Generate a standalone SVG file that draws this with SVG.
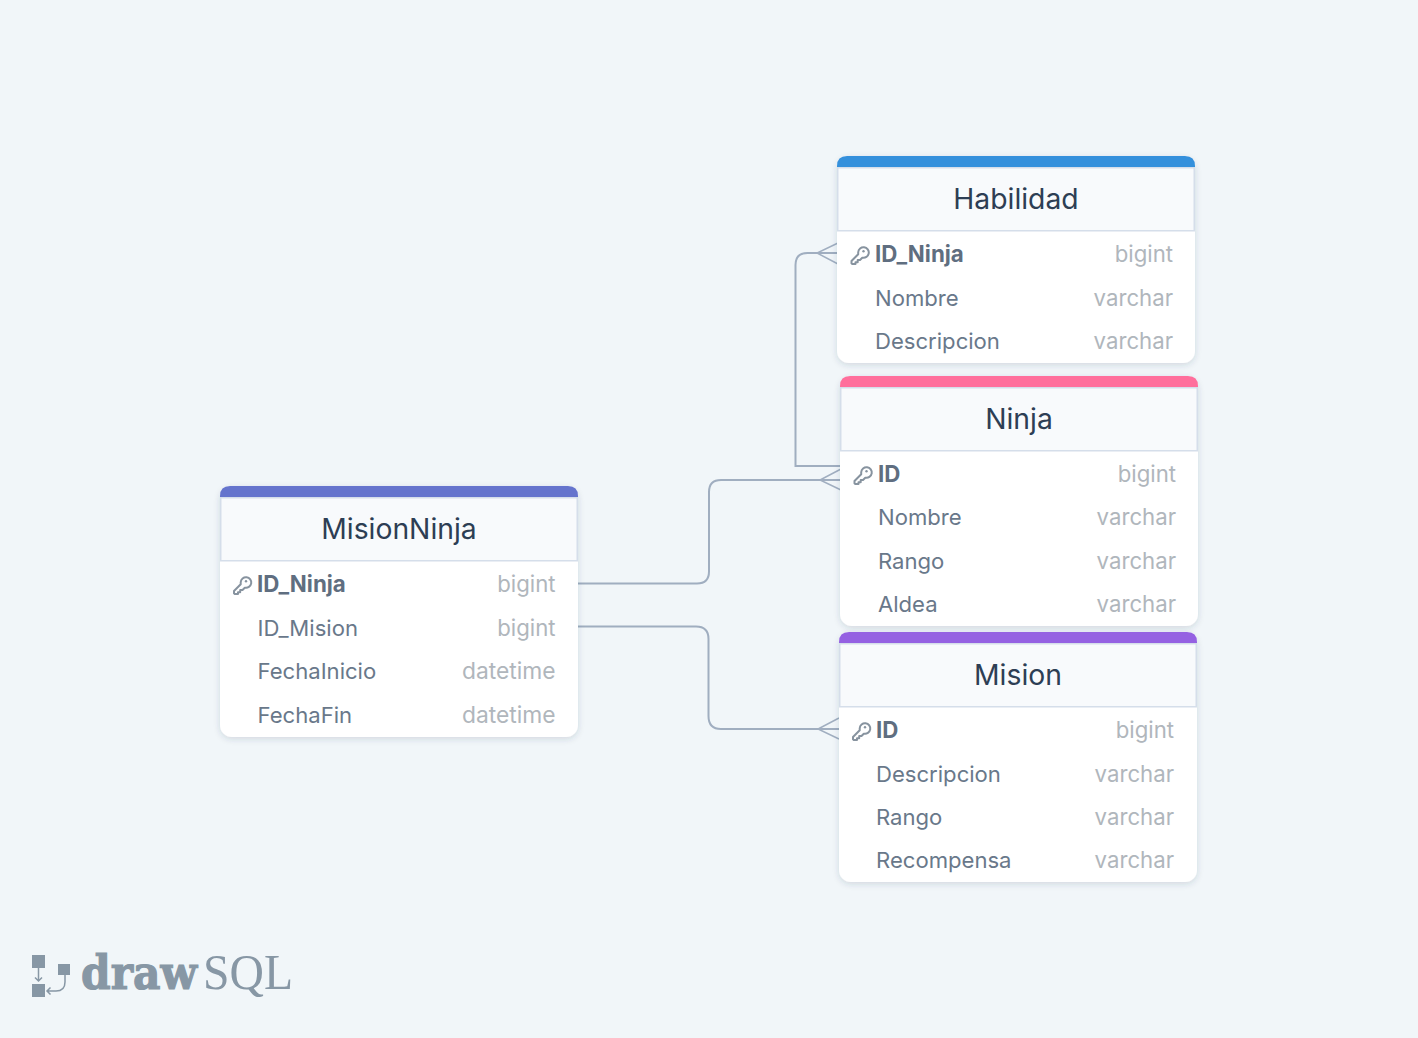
<svg xmlns="http://www.w3.org/2000/svg" width="1418" height="1038" viewBox="0 0 1418 1038">
<style>
text{font-family:Inter,"Noto Sans","Liberation Sans",sans-serif}
.title{font-size:28.3px;font-weight:400;fill:#2d3e54;text-anchor:middle}
.col{font-size:22.1px;fill:#69788a}
.pk{font-size:22.3px;fill:#5f6e80;font-weight:700}
.type{font-size:22.2px;fill:#b0b6bc;text-anchor:end}
.dt{font-size:22.8px}
.conn{fill:none;stroke:#a0aec0;stroke-width:2}
.crow{fill:none;stroke:#a0aec0;stroke-width:1.5}
.head{fill:#f8fafc;stroke:#d5deea;stroke-width:1.5}
.body{fill:#fff;filter:url(#sh)}
.key{fill:none;stroke:#87939f;stroke-width:2;stroke-linejoin:round}
.logo{fill:#8797a5}
</style>
<defs>
<filter id="sh" x="-10%" y="-10%" width="120%" height="120%"><feDropShadow dx="0" dy="2" stdDeviation="3" flood-color="#2d3e54" flood-opacity=".16"/></filter>
<g id="k"><path class="key" d="M-1.300 -2.300A5.300 5.300 0 1 1 2.800 3.200L0.500 5.500H-1.800V7.800H-4V9.500H-7.200L-8 8.700V6.500L-1.300 -0.300Z"/><circle cx="4" cy="-3.200" r="1.200" fill="#87939f"/></g>
</defs>
<rect width="1418" height="1038" fill="#f1f6f9"/>
<g id="connectors">
<path class="conn" d="M840 466H795.500V265Q795.500 253 807.500 253H838"/>
<path class="crow" d="M838 243L817 253L838 264"/>
<path class="conn" d="M578 583.500H697Q709 583.500 709 571.500V492Q709 480 721 480H841"/>
<path class="crow" d="M841 469L820 480L841 490"/>
<path class="conn" d="M578 626.500H696Q708.500 626.500 708.500 639V716Q708.500 729 721 729H839"/>
<path class="crow" d="M839 718L818 729L839 739"/>
</g>
<g id="habilidad">
<rect class="body" x="837" y="156" width="358" height="207" rx="12"/>
<path d="M837 168V166Q837 156 847 156H1185Q1195 156 1195 166V168Z" fill="#3490dc"/>
<rect class="head" x="837.750" y="167.750" width="356.500" height="63"/>
<text class="title" x="1016" y="209">Habilidad</text>
<use href="#k" x="859.500" y="254.500"/>
<text class="pk" x="875" y="262">ID_Ninja</text><text class="type" x="1173" y="262">bigint</text>
<text class="col" x="875" y="306">Nombre</text><text class="type" x="1173" y="306">varchar</text>
<text class="col" x="875" y="349">Descripcion</text><text class="type" x="1173" y="349">varchar</text>
</g>
<g id="ninja">
<rect class="body" x="840" y="376" width="358" height="250" rx="12"/>
<path d="M840 388V386Q840 376 850 376H1188Q1198 376 1198 386V388Z" fill="#ff6f9c"/>
<rect class="head" x="840.750" y="387.750" width="356.500" height="63"/>
<text class="title" x="1019" y="429">Ninja</text>
<use href="#k" x="862.500" y="474.500"/>
<text class="pk" x="878" y="482">ID</text><text class="type" x="1176" y="482">bigint</text>
<text class="col" x="878" y="525">Nombre</text><text class="type" x="1176" y="525">varchar</text>
<text class="col" x="878" y="569">Rango</text><text class="type" x="1176" y="569">varchar</text>
<text class="col" x="878" y="612">Aldea</text><text class="type" x="1176" y="612">varchar</text>
</g>
<g id="mision">
<rect class="body" x="839" y="632" width="358" height="250" rx="12"/>
<path d="M839 644V642Q839 632 849 632H1187Q1197 632 1197 642V644Z" fill="#9561e2"/>
<rect class="head" x="839.750" y="643.750" width="356.500" height="63"/>
<text class="title" x="1018" y="685">Mision</text>
<use href="#k" x="861" y="730.500"/>
<text class="pk" x="876" y="738">ID</text><text class="type" x="1174" y="738">bigint</text>
<text class="col" x="876" y="782">Descripcion</text><text class="type" x="1174" y="782">varchar</text>
<text class="col" x="876" y="825">Rango</text><text class="type" x="1174" y="825">varchar</text>
<text class="col" x="876" y="868">Recompensa</text><text class="type" x="1174" y="868">varchar</text>
</g>
<g id="misionninja">
<rect class="body" x="220" y="486" width="358" height="251" rx="12"/>
<path d="M220 498V496Q220 486 230 486H568Q578 486 578 496V498Z" fill="#6574cd"/>
<rect class="head" x="220.750" y="497.750" width="356.500" height="63"/>
<text class="title" x="399" y="539">MisionNinja</text>
<use href="#k" x="242" y="584.500"/>
<text class="pk" x="257" y="592">ID_Ninja</text><text class="type" x="555.500" y="592">bigint</text>
<text class="col" x="257.500" y="636">ID_Mision</text><text class="type" x="555.500" y="636">bigint</text>
<text class="col" x="257.500" y="679">FechaInicio</text><text class="type dt" x="555.500" y="679">datetime</text>
<text class="col" x="257.500" y="723">FechaFin</text><text class="type dt" x="555.500" y="723">datetime</text>
</g>
<g id="logo">
<rect class="logo" x="32" y="955" width="13" height="13"/>
<rect class="logo" x="32" y="984" width="13" height="13"/>
<rect class="logo" x="58" y="964" width="12" height="11"/>
<path d="M38.500 968V981M35 977.500L38.500 981L42 977.500M65 975V982Q65 991 56 991H47M50.500 987.500L47 991L50.500 994.500" fill="none" stroke="#8797a5" stroke-width="1.500"/>
<text x="81" y="989" font-size="46" font-weight="700" textLength="116" lengthAdjust="spacingAndGlyphs" style="font-family:'DejaVu Serif',serif" fill="#8797a5" stroke="#8797a5" stroke-width="1.200">draw</text>
<text x="203" y="989" font-size="50" textLength="90" lengthAdjust="spacingAndGlyphs" style="font-family:'Liberation Serif',serif" fill="#8797a5">SQL</text>
</g>
</svg>
